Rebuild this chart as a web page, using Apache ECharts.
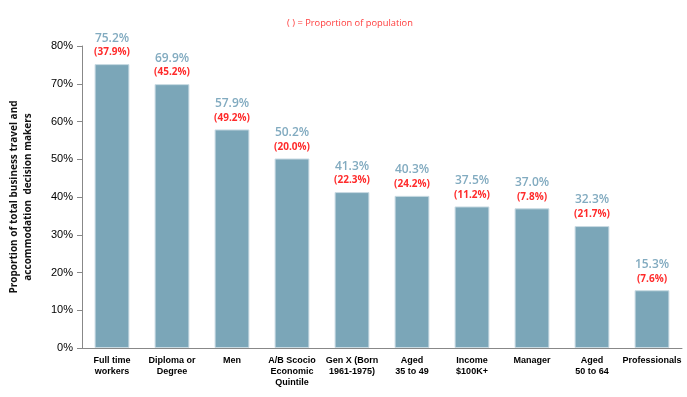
<!DOCTYPE html>
<html>
<head>
<meta charset="utf-8">
<script src="https://cdn.jsdelivr.net/npm/echarts@6/dist/echarts.min.js"></script>
<style>
  html, body { margin: 0; padding: 0; background: #fff; }
  #chart { width: 687px; height: 397px; }
</style>
</head>
<body>
<div id="chart"></div>
<script>
// data
const categories = ['Full time\nworkers', 'Diploma or\nDegree', 'Men', 'A/B Scocio\nEconomic\nQuintile',
  'Gen X (Born\n1961-1975)', 'Aged\n35 to 49', 'Income\n$100K+', 'Manager', 'Aged\n50 to 64', 'Professionals']
const decisionMakers = [75.2, 69.9, 57.9, 50.2, 41.3, 40.3, 37.5, 37.0, 32.3, 15.3]
const population = [37.9, 45.2, 49.2, 20.0, 22.3, 24.2, 11.2, 7.8, 21.7, 7.6]
const yTicks = [0, 10, 20, 30, 40, 50, 60, 70, 80]

const chart = echarts.init(document.getElementById('chart'))

chart.setOption({
  animation: false,
  textStyle: { fontFamily: 'Liberation Sans, Arial, sans-serif' },
  title: {
    text: '( ) = Proportion of population',
    left: 345, top: 14, textAlign: 'center',
    textStyle: { color: '#ff3b3b', fontSize: 9.3, fontWeight: 'normal', fontFamily: 'Open Sans, sans-serif' }
  },
  grid: { left: 82, right: 5, top: 46, bottom: 49, outerBoundsMode: 'none', containLabel: false },
  xAxis: {
    type: 'category',
    data: categories,
    axisLine: { lineStyle: { color: '#888' } },
    axisTick: { lineStyle: { color: '#888' } },
    axisLabel: {
      color: '#000', fontSize: 9, fontWeight: 'bold', interval: 0, margin: 7, lineHeight: 11
    }
  },
  yAxis: {
    type: 'value',
    min: yTicks[0], max: yTicks[yTicks.length - 1], interval: 10,
    name: 'Proportion of total business travel and\naccommodation  decision makers',
    nameLocation: 'middle', nameGap: 47, nameRotate: 90,
    nameTextStyle: { color: '#111', fontSize: 10, fontWeight: 'bold', lineHeight: 14, fontFamily: 'Open Sans, sans-serif' },
    axisLine: { show: true, lineStyle: { color: '#888' } },
    axisTick: { show: true, length: 5, lineStyle: { color: '#888' } },
    splitLine: { show: false },
    axisLabel: { color: '#000', fontSize: 11, margin: 9, formatter: v => v + '%' }
  },
  series: [{
    type: 'bar',
    data: decisionMakers,
    barWidth: '58%',
    itemStyle: { color: '#7ba6b8', borderColor: '#c9dbe3', borderWidth: 1 },
    label: {
      show: true, position: 'top', distance: 5, align: 'center',
      formatter: p => '{a|' + p.value.toFixed(1) + '%}\n{b|(' + population[p.dataIndex].toFixed(1) + '%)}',
      rich: {
        a: { color: '#82abc0', fontSize: 12, fontWeight: 600, lineHeight: 16, fontFamily: 'Open Sans, sans-serif' },
        b: { color: '#ff2b2b', fontSize: 10, fontWeight: 'bold', lineHeight: 13, fontFamily: 'Open Sans, sans-serif' }
      }
    }
  }]
})
</script>
</body>
</html>
